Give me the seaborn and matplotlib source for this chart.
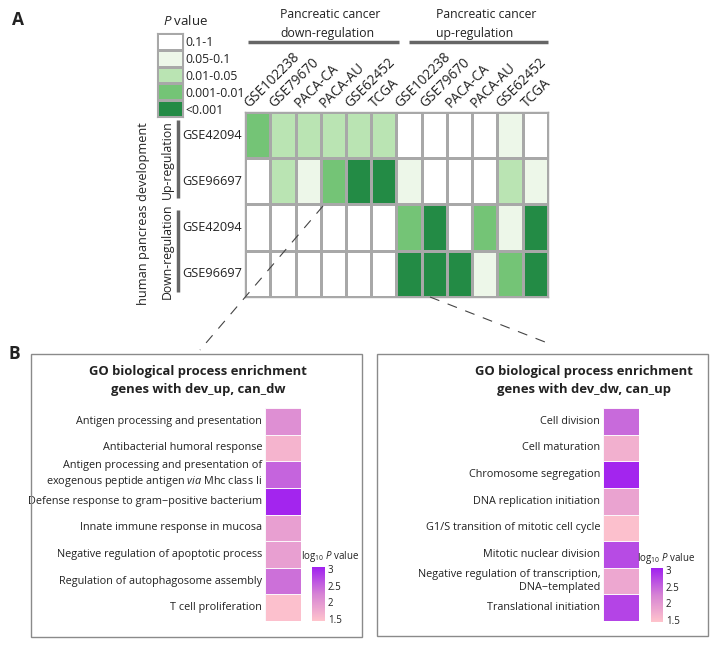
import numpy as np
import matplotlib
matplotlib.use("Agg")
import matplotlib.pyplot as plt
from matplotlib.colors import ListedColormap, LinearSegmentedColormap
from matplotlib.lines import Line2D
from matplotlib.patches import Rectangle
import matplotlib.transforms as mtransforms
import seaborn as sns

# ---------------- data ----------------
col_labels = ["GSE102238", "GSE79670", "PACA-CA", "PACA-AU", "GSE62452", "TCGA",
              "GSE102238", "GSE79670", "PACA-CA", "PACA-AU", "GSE62452", "TCGA"]
row_labels = ["GSE42094", "GSE96697", "GSE42094", "GSE96697"]
# significance level: 0 = 0.1-1, 1 = 0.05-0.1, 2 = 0.01-0.05, 3 = 0.001-0.01, 4 = <0.001
up_dev_42094 = [3, 2, 2, 2, 2, 2, 0, 0, 0, 0, 1, 0]
up_dev_96697 = [0, 2, 1, 3, 4, 4, 1, 0, 0, 0, 2, 1]
dw_dev_42094 = [0, 0, 0, 0, 0, 0, 3, 4, 0, 3, 1, 4]
dw_dev_96697 = [0, 0, 0, 0, 0, 0, 4, 4, 4, 1, 3, 4]
legend_labels = ["0.1-1", "0.05-0.1", "0.01-0.05", "0.001-0.01", "<0.001"]
legend_levels = [0, 1, 2, 3, 4]
green_colors = ["#ffffff", "#edf7e9", "#bae4b3", "#74c476", "#238b45"]

left_terms = ["Antigen processing and presentation",
              "Antibacterial humoral response",
              "Antigen processing and presentation of\nexogenous peptide antigen $\\it{via}$ Mhc class Ii",
              "Defense response to gram\u2212positive bacterium",
              "Innate immune response in mucosa",
              "Negative regulation of apoptotic process",
              "Regulation of autophagosome assembly",
              "T cell proliferation"]
left_logp = [2.1, 1.65, 2.5, 3.0, 1.9, 1.9, 2.4, 1.5]

right_terms = ["Cell division",
               "Cell maturation",
               "Chromosome segregation",
               "DNA replication initiation",
               "G1/S transition of mitotic cell cycle",
               "Mitotic nuclear division",
               "Negative regulation of transcription,\nDNA\u2212templated",
               "Translational initiation"]
right_logp = [2.45, 1.7, 3.0, 1.85, 1.5, 2.7, 1.8, 2.75]
cbar_ticks = [1.5, 2, 2.5, 3]
cbar_ticklabels = ["1.5", "2", "2.5", "3"]

# ---------------- style ----------------
sns.set_style("white")
plt.rcParams["font.family"] = ["Open Sans", "DejaVu Sans"]
plt.rcParams["mathtext.fontset"] = "custom"
plt.rcParams["mathtext.rm"] = "Open Sans"
plt.rcParams["mathtext.it"] = "Open Sans:italic"
plt.rcParams["mathtext.bf"] = "Open Sans:bold"

W, H = 716, 648
fig = plt.figure(figsize=(W / 100, H / 100), dpi=100)
TXT = "#222222"
GRID = "#a8a8a8"


def rect(x0, y0, x1, y1):
    return [x0 / W, 1 - y1 / H, (x1 - x0) / W, (y1 - y0) / H]


def fx(x):
    return x / W


def fy(y):
    return 1 - y / H


def ftext(x, y, s, **kw):
    kw.setdefault("color", TXT)
    fig.text(fx(x), fy(y), s, **kw)


def fline(xs, ys, **kw):
    fig.add_artist(Line2D([fx(v) for v in xs], [fy(v) for v in ys],
                          transform=fig.transFigure, **kw))


green_cmap = ListedColormap(green_colors)

# ---------------- panel A heatmap ----------------
axA = fig.add_axes(rect(245, 112, 548, 297))
matA = np.array([up_dev_42094, up_dev_96697, dw_dev_42094, dw_dev_96697])
sns.heatmap(matA, ax=axA, cmap=green_cmap, vmin=-0.5, vmax=4.5, cbar=False,
            linewidths=1, linecolor=GRID, xticklabels=col_labels,
            yticklabels=row_labels)
axA.xaxis.tick_top()
axA.tick_params(axis="both", length=0)
axA.tick_params(axis="x", pad=1)
axA.tick_params(axis="y", pad=2)
shift = mtransforms.ScaledTranslation(-6 / 100, 0, fig.dpi_scale_trans)
for lab in axA.get_xticklabels():
    lab.set_rotation(45)
    lab.set_ha("left")
    lab.set_va("bottom")
    lab.set_rotation_mode("anchor")
    lab.set_fontsize(9.8)
    lab.set_color(TXT)
    lab.set_transform(lab.get_transform() + shift)
for lab in axA.get_yticklabels():
    lab.set_rotation(0)
    lab.set_fontsize(9.2)
    lab.set_color(TXT)
for sp in axA.spines.values():
    sp.set_visible(True)
    sp.set_color(GRID)
    sp.set_linewidth(1)

# legend (P value)
axL = fig.add_axes(rect(157, 33, 183, 117))
sns.heatmap(np.array(legend_levels).reshape(-1, 1), ax=axL, cmap=green_cmap,
            vmin=-0.5, vmax=4.5, cbar=False, linewidths=1, linecolor=GRID,
            xticklabels=False, yticklabels=legend_labels)
axL.yaxis.tick_right()
axL.tick_params(axis="y", length=0, pad=1.5)
for lab in axL.get_yticklabels():
    lab.set_rotation(0)
    lab.set_ha("left")
    lab.set_fontsize(8.8)
    lab.set_color(TXT)
for sp in axL.spines.values():
    sp.set_visible(True)
    sp.set_color(GRID)
ftext(186, 21, "$P$ value", ha="center", va="center", fontsize=9.5)

# group headers
ftext(280, 14, "Pancreatic cancer", ha="left", va="center", fontsize=8.8)
ftext(280, 33, "down-regulation", ha="left", va="center", fontsize=8.8)
ftext(436, 14, "Pancreatic cancer", ha="left", va="center", fontsize=8.8)
ftext(436, 33, "up-regulation", ha="left", va="center", fontsize=8.8)
fline([248, 399], [42, 42], color="#666666", lw=2.5, solid_capstyle="butt")
fline([409, 548], [42, 42], color="#666666", lw=2.5, solid_capstyle="butt")

# row group annotations
fline([178, 178], [120, 198], color="#666666", lw=2.5, solid_capstyle="butt")
fline([178, 178], [210, 292], color="#666666", lw=2.5, solid_capstyle="butt")
ftext(167, 160, "Up-regulation", rotation=90, ha="center", va="center", fontsize=8.8)
ftext(167, 251, "Down-regulation", rotation=90, ha="center", va="center", fontsize=8.8)
ftext(143, 214, "human pancreas development", rotation=90, ha="center",
      va="center", fontsize=9.2)

# panel letters
ftext(12, 20, "A", ha="left", va="center", fontsize=12.5, fontweight="bold")
ftext(9, 354, "B", ha="left", va="center", fontsize=12.5, fontweight="bold")

# dashed connectors
fline([323, 200], [206, 350], color="#444444", lw=0.8, linestyle=(0, (9, 8)))
fline([430, 545], [297, 342], color="#444444", lw=0.8, linestyle=(0, (9, 8)))

# ---------------- panel B ----------------
fig.add_artist(Rectangle((fx(31), fy(637)), (362 - 31) / W, (637 - 354) / H,
                         transform=fig.transFigure, fill=False,
                         edgecolor="#8a8a8a", lw=1))
fig.add_artist(Rectangle((fx(377), fy(636)), (708 - 377) / W, (636 - 354) / H,
                         transform=fig.transFigure, fill=False,
                         edgecolor="#8a8a8a", lw=1))

pink_purple = LinearSegmentedColormap.from_list("pp", ["#ffc4cc", "#d683d4", "#a020f0"])


def go_panel(bar_box, cbar_box, terms, values, title2, title_x,
             cbar_title_x, cbar_title_y):
    ax = fig.add_axes(rect(*bar_box))
    cax = fig.add_axes(rect(*cbar_box))
    sns.heatmap(np.array(values).reshape(-1, 1), ax=ax, cbar_ax=cax,
                cmap=pink_purple, vmin=1.45, vmax=3.05, linewidths=0.6,
                linecolor="#fbf5fa", xticklabels=False, yticklabels=terms,
                cbar_kws={"ticks": cbar_ticks})
    ax.tick_params(axis="y", length=0, pad=2)
    for lab in ax.get_yticklabels():
        lab.set_rotation(0)
        lab.set_fontsize(7.8)
        lab.set_color(TXT)
        lab.set_linespacing(1.3)
    cax.tick_params(length=0, pad=2, labelsize=7, labelcolor=TXT)
    cax.set_yticklabels(cbar_ticklabels)
    for sp in cax.spines.values():
        sp.set_visible(False)
    cb = ax.collections[0].colorbar
    if cb is not None:
        cb.outline.set_visible(False)
    ftext(title_x, 372, "GO biological process enrichment", ha="center",
          va="center", fontsize=9.4, fontweight="bold")
    ftext(title_x, 389, title2, ha="center", va="center", fontsize=9.4,
          fontweight="bold")
    ftext(cbar_title_x, cbar_title_y, "log$_{10}$ $P$ value", ha="center",
          va="center", fontsize=7)


go_panel((265, 408, 301, 621), (312, 567, 325, 621), left_terms, left_logp,
         "genes with dev_up, can_dw", 198, 330, 557)
go_panel((603, 408, 639, 621), (651, 568, 663, 622), right_terms, right_logp,
         "genes with dev_dw, can_up", 584, 666, 558)

fig.savefig("out.png", dpi=100)
